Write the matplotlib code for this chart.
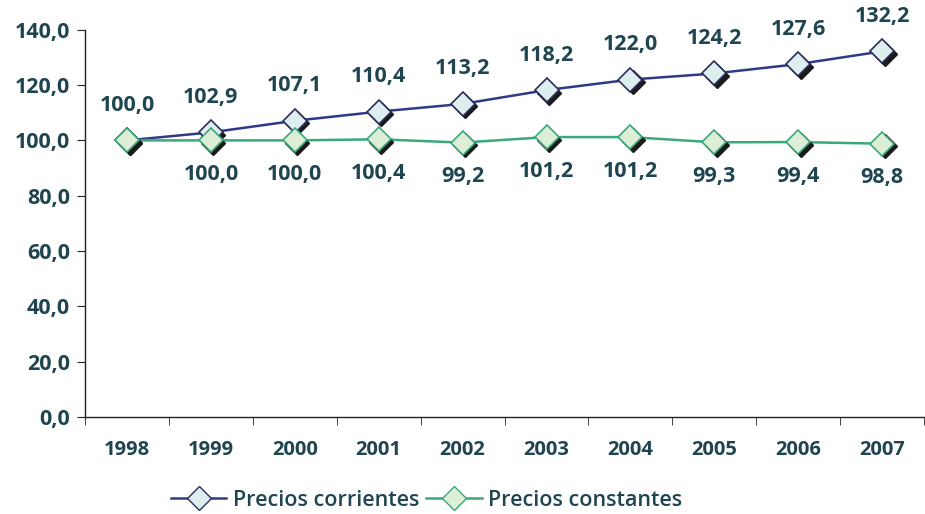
import matplotlib.pyplot as plt
import matplotlib.transforms as mtransforms
from matplotlib.lines import Line2D
import numpy as np

years = ["1998", "1999", "2000", "2001", "2002", "2003", "2004", "2005", "2006", "2007"]
corrientes = [100.0, 102.9, 107.1, 110.4, 113.2, 118.2, 122.0, 124.2, 127.6, 132.2]
constantes = [100.0, 100.0, 100.0, 100.4, 99.2, 101.2, 101.2, 99.3, 99.4, 98.8]
yticks = [0, 20, 40, 60, 80, 100, 120, 140]

text_color = "#1f4550"
blue = "#2e3a87"
green = "#3aa87a"
plt.rcParams["font.family"] = ["Open Sans", "DejaVu Sans"]

def fmt(v):
    return f"{v:.1f}".replace(".", ",")

fig = plt.figure(figsize=(9.25, 5.14), dpi=100)
ax = fig.add_axes([0.092, 0.189, 0.907, 0.753])
x = np.arange(len(years))

shadow = mtransforms.offset_copy(ax.transData, fig=fig, x=2.5, y=-2.5, units="dots")
for vals, lc, fc, ec in [(corrientes, blue, "#deeeee", "#2a2e5e"),
                         (constantes, green, "#dcefd6", green)]:
    ax.plot(x, vals, color=lc, lw=1.8, zorder=2)
    ax.plot(x, vals, "D", ms=12.5, color="#1a1a1a", mec="#1a1a1a", transform=shadow, zorder=3)
    ax.plot(x, vals, "D", ms=12.5, mfc=fc, mec=ec, mew=1.2, ls="none", zorder=4)

for xi, v in zip(x, corrientes):
    ax.annotate(fmt(v), (xi, v), xytext=(0, 35), textcoords="offset pixels",
                ha="center", va="center", fontsize=15.5, fontweight="bold", color=text_color)
# the 1998 constant-price label is not shown (it coincides with the other series)
for xi, v in zip(x[1:], constantes[1:]):
    ax.annotate(fmt(v), (xi, v), xytext=(0, -34), textcoords="offset pixels",
                ha="center", va="center", fontsize=15.5, fontweight="bold", color=text_color)

ax.set_xlim(-0.5, len(years) - 0.5)
ax.set_ylim(0, 140)
ax.set_yticks(yticks)
ax.set_yticklabels([fmt(v) for v in yticks], fontsize=15.5, fontweight="bold", color=text_color)
ax.set_xticks(x)
ax.set_xticklabels(years, fontsize=14.5, fontweight="bold", color=text_color)
ax.set_xticks(np.arange(-0.5, len(years)), minor=True)
ax.tick_params(axis="x", which="major", length=0, pad=17)
ax.tick_params(axis="x", which="minor", length=6, color="#222222", direction="out")
ax.tick_params(axis="y", length=6, color="#222222", direction="out", pad=5)
for s in ["top", "right"]:
    ax.spines[s].set_visible(False)
for s in ["left", "bottom"]:
    ax.spines[s].set_color("#222222")
    ax.spines[s].set_linewidth(1.0)

handles = [
    Line2D([], [], color=blue, lw=1.8, marker="D", ms=12.5, mfc="#deeeee", mec="#2a2e5e"),
    Line2D([], [], color=green, lw=1.8, marker="D", ms=12.5, mfc="#dcefd6", mec=green),
]
fig.legend(handles, ["Precios corrientes", "Precios constantes"], loc="center",
           bbox_to_anchor=(0.461, 0.027), ncol=2, frameon=False,
           handlelength=2.6, columnspacing=0.3, handletextpad=0.3,
           labelcolor=text_color, prop={"weight": "semibold", "size": 15.5})

fig.savefig("out.png", dpi=100)
